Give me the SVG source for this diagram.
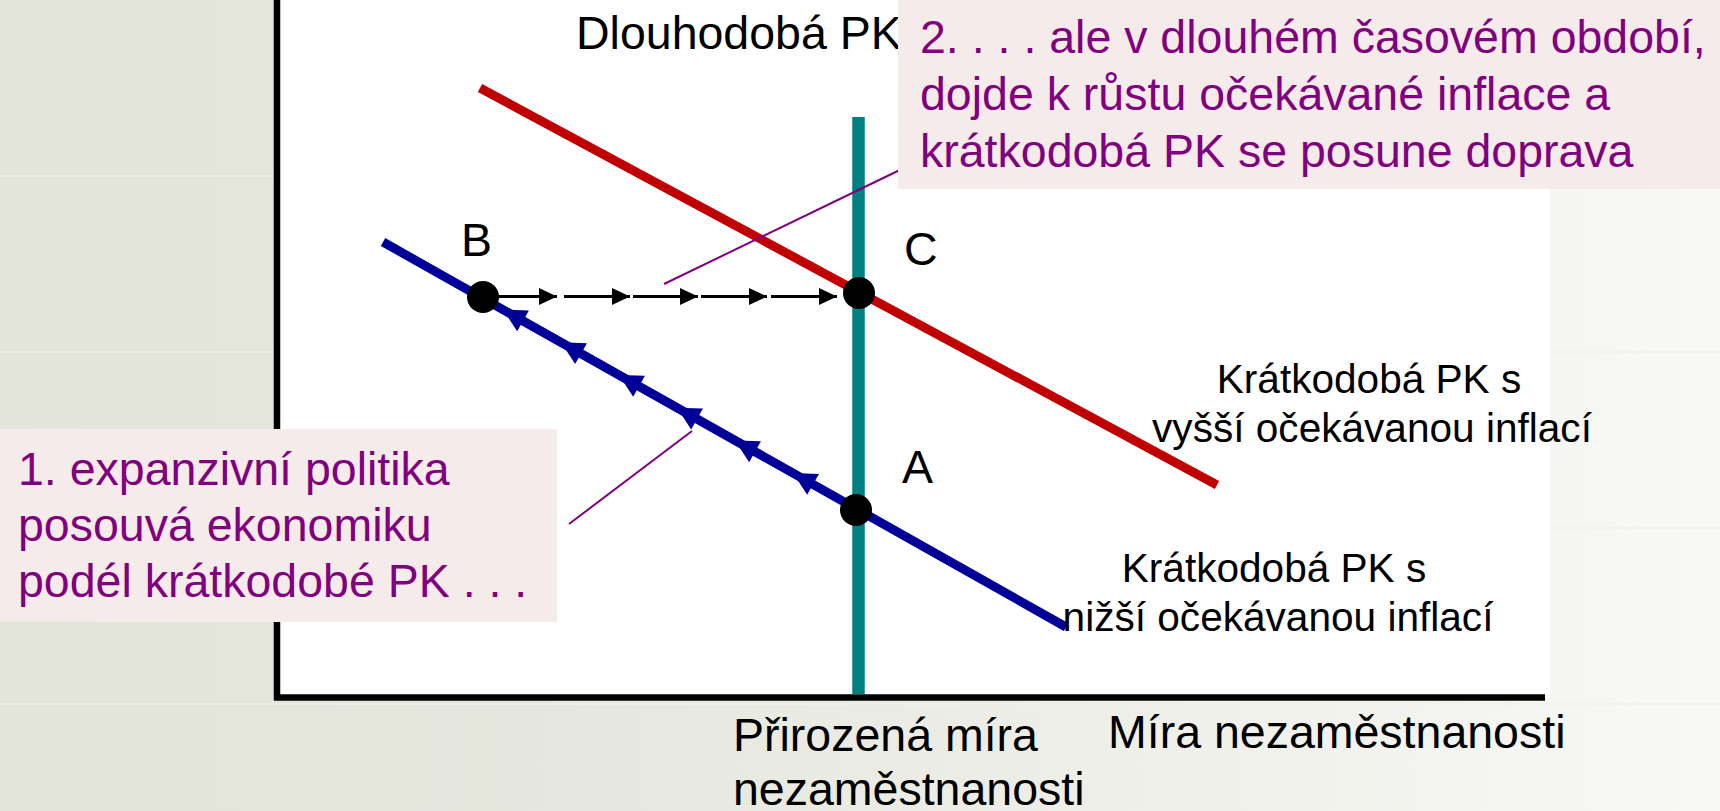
<svg xmlns="http://www.w3.org/2000/svg" xmlns:xlink="http://www.w3.org/1999/xlink" width="1720" height="811" viewBox="0 0 1720 811">
  <style>
    .t { font-family: "Liberation Sans", Arial, sans-serif; }
    .lbl { font-size: 46.5px; fill: #000; }
    .sm { font-size: 40.6px; fill: #000; }
    .pt { font-size: 46.5px; fill: #800080; }
    .box { fill: #F6EBEB; }
    .lead { stroke: #800080; stroke-width: 2; fill: none; }
    .dash { stroke: #000; stroke-width: 3; fill: none; marker-end: url(#ah); }
    .grid { stroke: #F1F1EC; stroke-width: 1.5; }
  </style>
  <defs>
    <linearGradient id="bg" x1="0" y1="0" x2="1720" y2="0" gradientUnits="userSpaceOnUse">
      <stop offset="0" stop-color="#E3E4DA"/>
      <stop offset="0.3" stop-color="#E5E6DD"/>
      <stop offset="1" stop-color="#F8F8F5"/>
    </linearGradient>
    <marker id="ah" markerUnits="userSpaceOnUse" markerWidth="18" markerHeight="17" refX="17" refY="8" orient="auto" viewBox="0 0 17 16">
      <path d="M0,0 L17,8 L0,16 Z" fill="#000"/>
    </marker>
    <path id="bh" d="M0,0 L23,-12 L23,12 Z" fill="#000099"/>
  </defs>

  <!-- background -->
  <rect x="0" y="0" width="1720" height="811" fill="url(#bg)"/>
  <g id="gridlines">
    <line class="grid" x1="0" y1="176" x2="1720" y2="176"/>
    <line class="grid" x1="0" y1="352" x2="1720" y2="352"/>
    <line class="grid" x1="0" y1="528" x2="1720" y2="528"/>
    <line class="grid" x1="0" y1="704" x2="1720" y2="704"/>
  </g>
  <rect x="277" y="0" width="1273" height="697" fill="#FFFFFF"/>

  <!-- axes -->
  <g id="axes">
    <line x1="277" y1="0" x2="277" y2="700" stroke="#000" stroke-width="6.5"/>
    <line x1="274" y1="697.5" x2="1545" y2="697.5" stroke="#000" stroke-width="6.5"/>
  </g>

  <!-- curves -->
  <g id="long-run-pc">
    <line x1="858.5" y1="117" x2="858.5" y2="694" stroke="#008080" stroke-width="12.5"/>
  </g>
  <g id="short-run-pc-high">
    <line x1="480" y1="88" x2="1217" y2="485" stroke="#C00000" stroke-width="9"/>
  </g>
  <g id="short-run-pc-low">
    <line x1="383" y1="242" x2="1066" y2="627" stroke="#000099" stroke-width="9"/>
    <use xlink:href="#bh" transform="translate(503,309.6) rotate(29.4)"/>
    <use xlink:href="#bh" transform="translate(561,342.3) rotate(29.4)"/>
    <use xlink:href="#bh" transform="translate(619,375) rotate(29.4)"/>
    <use xlink:href="#bh" transform="translate(677,407.7) rotate(29.4)"/>
    <use xlink:href="#bh" transform="translate(735,440.4) rotate(29.4)"/>
    <use xlink:href="#bh" transform="translate(793,473.1) rotate(29.4)"/>
  </g>

  <!-- connectors -->
  <g id="connectors">
    <line class="dash" x1="497" y1="296.5" x2="557" y2="296.5"/>
    <line class="dash" x1="564" y1="296.5" x2="630" y2="296.5"/>
    <line class="dash" x1="633" y1="296.5" x2="698" y2="296.5"/>
    <line class="dash" x1="701" y1="296.5" x2="767" y2="296.5"/>
    <line class="dash" x1="771" y1="296.5" x2="837" y2="296.5"/>
    <line class="lead" x1="664" y1="284" x2="906" y2="167"/>
    <line class="lead" x1="569" y1="524" x2="692" y2="431"/>
  </g>

  <!-- points -->
  <g id="point-B">
    <circle cx="483" cy="297" r="16" fill="#000"/>
    <text class="t lbl" x="461" y="256">B</text>
  </g>
  <g id="point-C">
    <circle cx="859" cy="293" r="16" fill="#000"/>
    <text class="t lbl" x="904" y="265">C</text>
  </g>
  <g id="point-A">
    <circle cx="856" cy="510" r="16" fill="#000"/>
    <text class="t lbl" x="902" y="483">A</text>
  </g>

  <!-- labels -->
  <g id="label-long-run">
    <text class="t lbl" x="576" y="49">Dlouhodobá PK</text>
  </g>
  <g id="label-high">
    <text class="t sm" text-anchor="middle" x="1369" y="393">Krátkodobá PK s</text>
    <text class="t sm" text-anchor="middle" x="1372" y="442">vyšší očekávanou inflací</text>
  </g>
  <g id="label-low">
    <text class="t sm" text-anchor="middle" x="1274" y="582">Krátkodobá PK s</text>
    <text class="t sm" text-anchor="middle" x="1278" y="631">nižší očekávanou inflací</text>
  </g>
  <g id="label-natural">
    <text class="t lbl" x="733" y="751">Přirozená míra</text>
    <text class="t lbl" x="733" y="805">nezaměstnanosti</text>
  </g>
  <g id="label-x-axis">
    <text class="t lbl" x="1108" y="748">Míra nezaměstnanosti</text>
  </g>

  <!-- callouts -->
  <g id="callout-2">
    <rect class="box" x="898" y="0" width="822" height="189"/>
    <text class="t pt" x="920" y="53">2. . . . ale v dlouhém časovém období,</text>
    <text class="t pt" x="920" y="110">dojde k růstu očekávané inflace a</text>
    <text class="t pt" x="920" y="167">krátkodobá PK se posune doprava</text>
  </g>
  <g id="callout-1">
    <rect class="box" x="0" y="429" width="557" height="193"/>
    <text class="t pt" x="18" y="485">1. expanzivní politika</text>
    <text class="t pt" x="18" y="541">posouvá ekonomiku</text>
    <text class="t pt" x="18" y="597">podél krátkodobé PK . . .</text>
  </g>
</svg>
